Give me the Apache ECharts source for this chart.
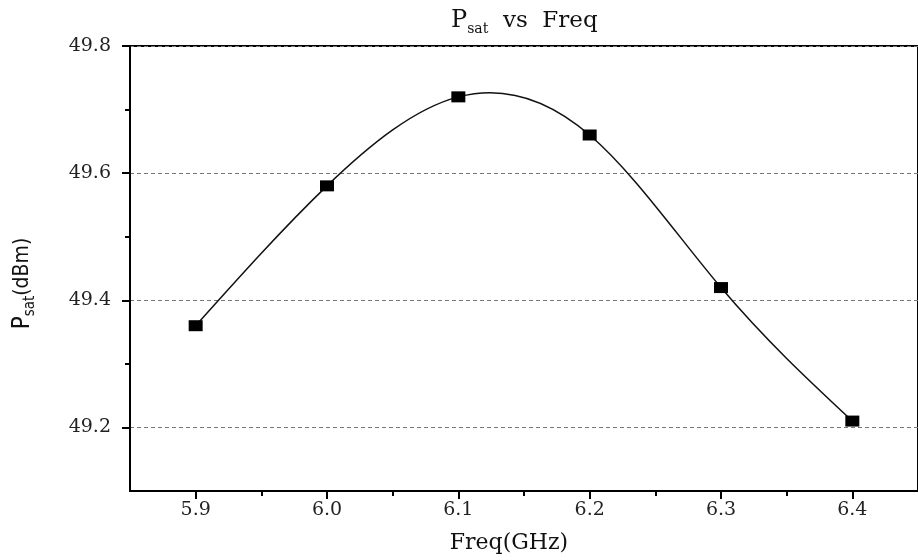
<!DOCTYPE html>
<html><head><meta charset="utf-8">
<script src="https://cdn.jsdelivr.net/npm/echarts@6/dist/echarts.min.js"></script>
<style>html,body{margin:0;padding:0;background:#fff}#c{width:918px;height:560px}</style>
</head><body><div id="c"></div>
<script>
const freq = [5.9, 6.0, 6.1, 6.2, 6.3, 6.4];
const psat = [49.36, 49.58, 49.72, 49.66, 49.42, 49.21];
const xMajorTicks = [5.9, 6.0, 6.1, 6.2, 6.3, 6.4];
const xMinorTicks = [5.95, 6.05, 6.15, 6.25, 6.35];
const yMajorTicks = [49.2, 49.4, 49.6, 49.8];
const yMinorTicks = [49.3, 49.5, 49.7];

const serif = 'DejaVu Serif';
const narrow = 'DejaVu Sans Condensed, Liberation Sans Narrow, Liberation Sans';
const black = '#000';
const xMin = 5.85, xMax = 6.45, yMin = 49.1, yMax = 49.8;

// natural cubic spline slopes at the knots (data space)
function splineSlopes(xs, ys) {
  const n = xs.length, h = [];
  for (let i = 0; i < n - 1; i++) h[i] = xs[i + 1] - xs[i];
  const l = new Array(n).fill(1), mu = new Array(n).fill(0), z = new Array(n).fill(0);
  for (let i = 1; i < n - 1; i++) {
    const a = 3 / h[i] * (ys[i + 1] - ys[i]) - 3 / h[i - 1] * (ys[i] - ys[i - 1]);
    l[i] = 2 * (xs[i + 1] - xs[i - 1]) - h[i - 1] * mu[i - 1];
    mu[i] = h[i] / l[i];
    z[i] = (a - h[i - 1] * z[i - 1]) / l[i];
  }
  const c = new Array(n).fill(0), b = [];
  for (let j = n - 2; j >= 0; j--) {
    c[j] = z[j] - mu[j] * c[j + 1];
    b[j] = (ys[j + 1] - ys[j]) / h[j] - h[j] * (c[j + 1] + 2 * c[j]) / 3;
  }
  b[n - 1] = b[n - 2] + h[n - 2] * (c[n - 2] + c[n - 1]);
  return b;
}
const slopes = splineSlopes(freq, psat);

const chart = echarts.init(document.getElementById('c'), null, {renderer: 'canvas'});

chart.setOption({
  animation: false,
  backgroundColor: '#fff',
  title: {
    text: '{p|P}{s|sat}{r|  vs  Freq}',
    left: 446, top: 1,
    textStyle: {
      fontWeight: 'normal',
      rich: {
        p: {fontFamily: serif, fontSize: 24, fontWeight: 'normal', color: '#111', lineHeight: 30, verticalAlign: 'middle'},
        s: {fontFamily: serif, fontSize: 14, fontWeight: 'normal', color: '#111', lineHeight: 13, verticalAlign: 'bottom'},
        r: {fontFamily: serif, fontSize: 23, fontWeight: 'normal', color: '#111', lineHeight: 30, verticalAlign: 'middle'}
      }
    }
  },
  grid: {left: 130, right: -8, top: 46, bottom: 69, show: true, borderColor: black, borderWidth: 2, backgroundColor: 'transparent'},
  xAxis: [
    {
      type: 'value', min: xMin, max: xMax, position: 'bottom',
      name: 'Freq(GHz)', nameLocation: 'middle', nameGap: 41,
      nameTextStyle: {fontFamily: serif, fontSize: 22, color: '#111', padding: [0, 30, 0, 0]},
      axisLine: {show: true, lineStyle: {color: black, width: 2}},
      axisTick: {show: true, customValues: xMajorTicks, length: 8, lineStyle: {color: black, width: 2}},
      axisLabel: {customValues: xMajorTicks, formatter: v => v.toFixed(1), fontFamily: serif, fontSize: 19, color: '#222', margin: 10},
      splitLine: {show: false}
    },
    {
      type: 'value', min: xMin, max: xMax, position: 'bottom',
      axisLine: {show: false},
      axisTick: {show: true, customValues: xMinorTicks, length: 5, lineStyle: {color: black, width: 2}},
      axisLabel: {show: false},
      splitLine: {show: false}
    }
  ],
  yAxis: [
    {
      type: 'value', min: yMin, max: yMax, position: 'left',
      name: '{p|P}{s|sat}{u|(dBm)}', nameLocation: 'middle', nameGap: 92, nameRotate: 90,
      nameTextStyle: {
        padding: [0, 30, 0, 0],
        rich: {
          p: {fontFamily: narrow, fontSize: 24, color: '#111', lineHeight: 30, verticalAlign: 'middle'},
          s: {fontFamily: narrow, fontSize: 15, color: '#111', lineHeight: 13, verticalAlign: 'bottom'},
          u: {fontFamily: narrow, fontSize: 21, color: '#111', lineHeight: 30, verticalAlign: 'middle'}
        }
      },
      axisLine: {show: true, lineStyle: {color: black, width: 2}},
      axisTick: {show: true, customValues: yMajorTicks, length: 8, lineStyle: {color: black, width: 2}},
      axisLabel: {customValues: yMajorTicks, formatter: v => v.toFixed(1), fontFamily: serif, fontSize: 19, color: '#222', margin: 19},
      splitLine: {show: true, lineStyle: {color: '#777', width: 1, type: [4, 3]}}
    },
    {
      type: 'value', min: yMin, max: yMax, position: 'left',
      axisLine: {show: false},
      axisTick: {show: true, customValues: yMinorTicks, length: 5, lineStyle: {color: black, width: 2}},
      axisLabel: {show: false},
      splitLine: {show: false}
    }
  ],
  series: [
    {
      type: 'custom',
      xAxisIndex: 0, yAxisIndex: 0,
      data: freq.map((f, i) => [f, psat[i]]),
      z: 2,
      renderItem: function (params, api) {
        if (params.dataIndex !== 0) return null;
        const n = freq.length;
        const p0 = api.coord([freq[0], psat[0]]);
        let d = 'M' + p0[0] + ' ' + p0[1];
        for (let i = 0; i < n - 1; i++) {
          const h = freq[i + 1] - freq[i];
          const c1 = api.coord([freq[i] + h / 3, psat[i] + slopes[i] * h / 3]);
          const c2 = api.coord([freq[i + 1] - h / 3, psat[i + 1] - slopes[i + 1] * h / 3]);
          const p1 = api.coord([freq[i + 1], psat[i + 1]]);
          d += ' C' + c1[0] + ' ' + c1[1] + ' ' + c2[0] + ' ' + c2[1] + ' ' + p1[0] + ' ' + p1[1];
        }
        return {
          type: 'path',
          shape: {pathData: d},
          style: {stroke: '#111', fill: null, lineWidth: 1.5}
        };
      }
    },
    {
      type: 'scatter',
      xAxisIndex: 0, yAxisIndex: 0,
      data: freq.map((f, i) => [f, psat[i]]),
      z: 3,
      symbol: 'rect', symbolSize: [14, 11],
      itemStyle: {color: black, opacity: 1}
    }
  ]
});
</script></body></html>
